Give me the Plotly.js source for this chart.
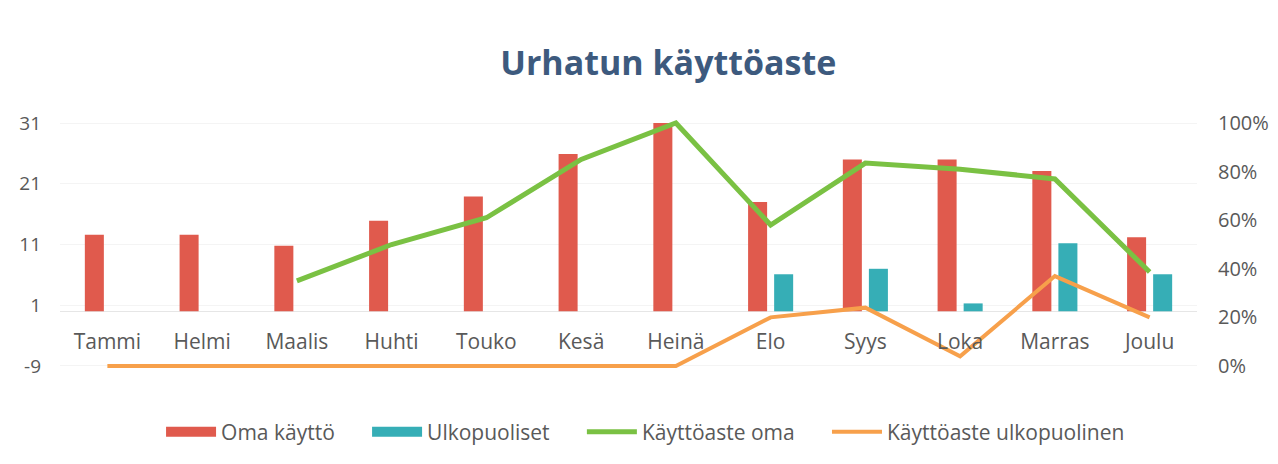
<!DOCTYPE html>
<html>
<head>
<meta charset="utf-8">
<script src="https://cdn.plot.ly/plotly-3.0.1.min.js"></script>
<style>html,body{margin:0;padding:0;background:#fff;}#chart{width:1278px;height:464px;}</style>
</head>
<body>
<div id="chart"></div>
<script>
// Data
const months = ["Tammi","Helmi","Maalis","Huhti","Touko","Kesä","Heinä","Elo","Syys","Loka","Marras","Joulu"];
const omaKaytto = [12.6, 12.6, 10.8, 14.9, 18.9, 25.9, 31, 18, 25, 25, 23.1, 12.2];
const ulkopuoliset = [0, 0, 0, 0, 0, 0, 0, 6.1, 7, 1.3, 11.2, 6.1];
const kayttoasteOma = [null, null, 0.35, 0.50, 0.61, 0.85, 1.00, 0.58, 0.835, 0.81, 0.77, 0.387];
const kayttoasteUlko = [0, 0, 0, 0, 0, 0, 0, 0.20, 0.24, 0.04, 0.37, 0.20];
const leftTicks = [-9, 1, 11, 21, 31];
const leftTickText = ["-9", "1", "11", "21", "31"];
const rightTicks = [0, 0.2, 0.4, 0.6, 0.8, 1];
const seriesNames = ["Oma käyttö", "Ulkopuoliset", "Käyttöaste oma", "Käyttöaste ulkopuolinen"];

const RED = "#E05A4D", TEAL = "#36AEB6", GREEN = "#7AC143", ORANGE = "#F7A04B";
const FONT = "Open Sans";
const GREY = "#595959";
const PAD = "\u00a0\u00a0\u00a0\u00a0\u00a0";

const traces = [
  {type:"bar", x:months, y:omaKaytto, name:seriesNames[0], marker:{color:RED}, showlegend:false, hoverinfo:"skip"},
  {type:"bar", x:months, y:ulkopuoliset, name:seriesNames[1], marker:{color:TEAL}, showlegend:false, hoverinfo:"skip"},
  {type:"scatter", mode:"lines", x:months, y:kayttoasteOma, yaxis:"y2", name:seriesNames[2] + PAD,
   line:{color:GREEN, width:5}, connectgaps:false, legendrank:3},
  {type:"scatter", mode:"lines", x:months, y:kayttoasteUlko, yaxis:"y2", name:seriesNames[3],
   line:{color:ORANGE, width:4}, legendrank:4},
  // legend swatches for the bar series
  {type:"scatter", mode:"lines", x:[months[0]], y:[null], name:seriesNames[0] + PAD, line:{color:RED, width:10}, legendrank:1, hoverinfo:"skip"},
  {type:"scatter", mode:"lines", x:[months[0]], y:[null], name:seriesNames[1] + PAD, line:{color:TEAL, width:10}, legendrank:2, hoverinfo:"skip"}
];

const layout = {
  width:1278, height:464,
  paper_bgcolor:"#ffffff", plot_bgcolor:"#ffffff",
  margin:{l:60, r:81, t:120, b:95},
  font:{family:FONT, color:GREY, size:20},
  title:{text:"Urhatun käyttöaste", x:0.535, xanchor:"center", xref:"paper", y:0.864, yanchor:"middle",
         font:{family:FONT, size:34, color:"#3D5A7E", weight:700}},
  barmode:"group", bargap:0.45, bargroupgap:0.27,
  xaxis:{type:"category", anchor:"free", position:0.17, showline:false, ticks:"", showgrid:false, zeroline:false,
         tickfont:{family:FONT, size:21, color:GREY}},
  yaxis:{range:[-9.5, 31.5], tickvals:leftTicks, ticktext:leftTickText, ticks:"", showgrid:true, gridcolor:"#f4f4f4", zeroline:true,
         zerolinecolor:"#e6e6e6", zerolinewidth:1, showline:false, ticklabelstandoff:18,
         tickfont:{family:FONT, size:19, color:GREY}},
  yaxis2:{overlaying:"y", side:"right", range:[-0.0125, 1.0125], tickvals:rightTicks, tickformat:".0%",
          ticks:"", showgrid:false, zeroline:false, showline:false, ticklabelstandoff:20,
          tickfont:{family:FONT, size:20, color:GREY}},
  legend:{orientation:"h", x:0.515, xanchor:"center", y:-0.253, yanchor:"middle", itemwidth:50,
          font:{family:FONT, size:21, color:GREY}, traceorder:"normal", bgcolor:"rgba(0,0,0,0)"},
  showlegend:true
};

Plotly.newPlot("chart", traces, layout, {displayModeBar:false, staticPlot:true});
</script>
</body>
</html>
